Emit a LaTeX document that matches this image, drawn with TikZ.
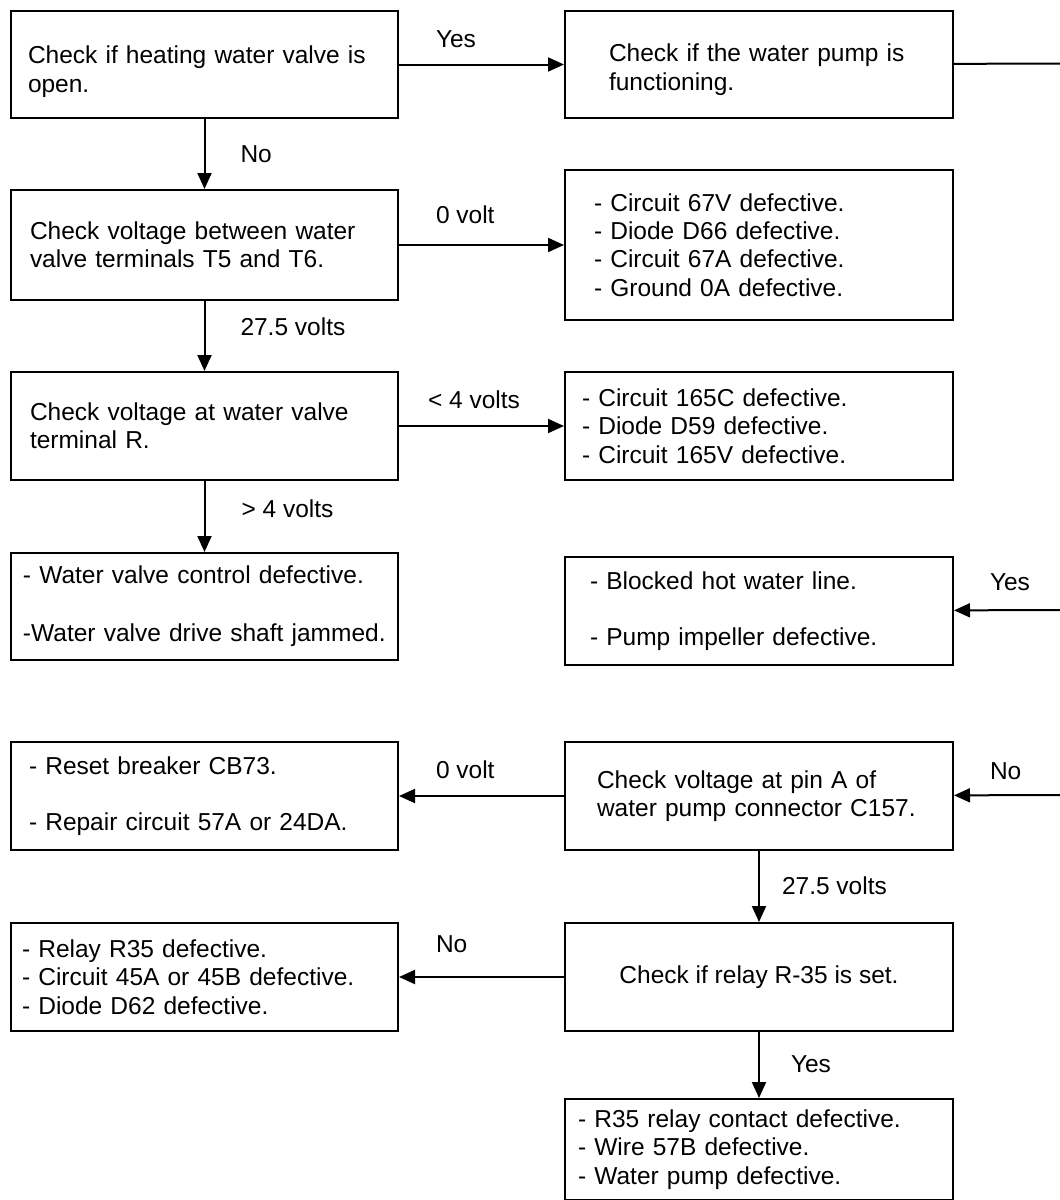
\documentclass[tikz,border=0pt]{standalone}
\usepackage{fontspec}
\setmainfont{Liberation Sans}
\usetikzlibrary{arrows.meta}

\begin{document}
\begin{tikzpicture}[x=0.5pt,y=-0.5pt,
        check/.style={draw=black, line width=1pt, rectangle, anchor=north west,
            align=left, inner ysep=0pt, font=\fontsize{12.25}{14.15}\selectfont},
        answer/.style={font=\fontsize{12.25}{14.15}\selectfont,
            inner sep=0pt, anchor=base west},
        flow/.style={line width=1pt, -{Triangle[length=8pt,width=7pt]}}]
        \useasboundingbox (0,0) rectangle (1060,1200);
        %left column
        \node[check, minimum height=53.5pt, inner xsep=8.5pt, text width=176.5pt]
            (valveopen) at (10,10) {\rule{0pt}{16pt}Check if heating water valve is\\open.};
        \node[check, minimum height=55pt, inner xsep=9.5pt, text width=174.5pt]
            (voltT) at (10,189) {Check voltage between water\\valve terminals T5 and T6.};
        \node[check, minimum height=54pt, inner xsep=9.5pt, text width=174.5pt]
            (voltR) at (10,371) {Check voltage at water valve\\terminal R.};
        \node[check, minimum height=53.5pt, inner xsep=6pt, text width=181.5pt]
            (valvectl) at (10,552) {- Water valve control defective.\\[15pt]-Water valve drive shaft jammed.};
        \node[check, minimum height=54pt, inner xsep=9pt, text width=175.5pt]
            (breaker) at (10,741) {- Reset breaker CB73.\\[14pt]- Repair circuit 57A or 24DA.};
        \node[check, minimum height=54pt, inner xsep=5.5pt, text width=182.5pt]
            (relaydef) at (10,922) {- Relay R35 defective.\\- Circuit 45A or 45B defective.\\- Diode D62 defective.};
        %right column
        \node[check, minimum height=53.5pt, inner xsep=22pt, text width=150pt]
            (pumpok) at (564,10) {\rule{0pt}{14pt}Check if the water pump is\\functioning.};
        \node[check, minimum height=75pt, inner xsep=14.5pt, text width=165pt]
            (circ67) at (564,169) {- Circuit 67V defective.\\- Diode D66 defective.\\- Circuit 67A defective.\\- Ground 0A defective.};
        \node[check, minimum height=54pt, inner xsep=8.5pt, text width=177pt]
            (circ165) at (564,371) {- Circuit 165C defective.\\- Diode D59 defective.\\- Circuit 165V defective.};
        \node[check, minimum height=54pt, inner xsep=12.5pt, text width=169pt]
            (blocked) at (564,556) {- Blocked hot water line.\\[14pt]- Pump impeller defective.};
        \node[check, minimum height=54pt, inner xsep=16pt, text width=162pt]
            (pinA) at (564,741) {Check voltage at pin A of\\water pump connector C157.};
        \node[check, minimum height=54pt, minimum width=194pt, align=center]
            (relayset) at (564,922) {Check if relay R-35 is set.};
        \node[check, minimum height=50.5pt, inner xsep=6.5pt, text width=181pt]
            (contact) at (564,1098) {- R35 relay contact defective.\\- Wire 57B defective.\\- Water pump defective.};
        %free ends at the right edge
        \coordinate (toright) at (1060,63.5);
        \coordinate (fromyes) at (1060,610);
        \coordinate (fromno) at (1060,795);
        %arrows
        \draw[flow] (valveopen) -- node[answer, at start, xshift=18pt, yshift=8.5pt] (yesA) {Yes} (pumpok);
        \draw[line width=1pt] (pumpok) -- (toright);
        \draw[flow] (valveopen) -- node[answer, at start, xshift=17.5pt, yshift=-21.5pt] (noA) {No} (voltT);
        \draw[flow] (voltT) -- node[answer, at start, xshift=18pt, yshift=11pt] (zeroT) {0 volt} (circ67);
        \draw[flow] (voltT) -- node[answer, at start, xshift=17.5pt, yshift=-17pt] (fullT) {27.5 volts} (voltR);
        \draw[flow] (voltR) -- node[answer, at start, xshift=14pt, yshift=9pt] (lowR) {< 4 volts} (circ165);
        \draw[flow] (voltR) -- node[answer, at start, xshift=18pt, yshift=-18pt] (highR) {> 4 volts} (valvectl);
        \draw[flow] (fromyes) -- node[answer, at end, xshift=17.5pt, yshift=10pt] (yesH) {Yes} (blocked);
        \draw[flow] (fromno) -- node[answer, at end, xshift=17.5pt, yshift=8pt] (noJ) {No} (pinA);
        \draw[flow] (pinA) -- node[answer, at end, xshift=18pt, yshift=9pt] (zeroA) {0 volt} (breaker);
        \draw[flow] (pinA) -- node[answer, at start, xshift=11pt, yshift=-21.5pt] (fullA) {27.5 volts} (relayset);
        \draw[flow] (relayset) -- node[answer, at end, xshift=18pt, yshift=12.5pt] (noK) {No} (relaydef);
        \draw[flow] (relayset) -- node[answer, at start, xshift=15.5pt, yshift=-20pt] (yesK) {Yes} (contact);
    \end{tikzpicture}
\end{document}
